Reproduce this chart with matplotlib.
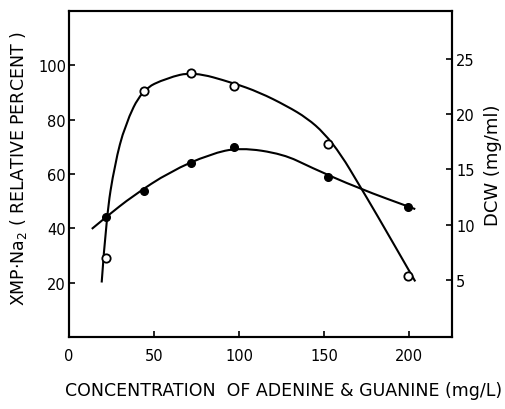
import matplotlib
matplotlib.use('Agg')
import matplotlib.pyplot as plt
from matplotlib.path import Path
from matplotlib.patches import PathPatch

# 数据
conc = [22, 44, 72, 97, 152, 199]
xmp = [29, 90.5, 97, 92.5, 71, 22.5]          # XMP-Na2, relative percent
dcw = [10.7, 13.0, 15.6, 17.0, 14.3, 11.6]    # DCW, mg/ml

# 手绘曲线的走向
xmp_curve_x = [19.3, 22, 27, 33, 43, 57.6, 73, 96.5, 112, 128, 140, 150, 160, 170, 180, 203.5]
xmp_curve_y = [20, 44, 63.6, 78, 91, 95.3, 97.6, 93.5, 90, 85, 80.5, 75, 67, 56.5, 46, 20.4]
dcw_curve_x = [13.5, 22, 37.6, 59.4, 83, 100.6, 126, 142, 170, 203.5]
dcw_curve_y = [9.6, 10.7, 12.6, 14.8, 16.4, 17.0, 16.4, 15.2, 13.3, 11.4]

x_ticks = [0, 50, 100, 150, 200]
left_ticks = [20, 40, 60, 80, 100]
right_ticks = [5, 10, 15, 20, 25]


def smooth(ax, xs, ys):
    pts = list(zip(xs, ys))
    verts = [pts[0]]
    codes = [Path.MOVETO]
    for i in range(1, len(pts) - 1):
        mid = ((pts[i][0] + pts[i + 1][0]) / 2, (pts[i][1] + pts[i + 1][1]) / 2)
        verts += [pts[i], mid]
        codes += [Path.CURVE3, Path.CURVE3]
    verts.append(pts[-1])
    codes.append(Path.LINETO)
    ax.add_patch(PathPatch(Path(verts, codes), fill=False, lw=1.5, color='black'))


fig = plt.figure(figsize=(5.06, 4.10), dpi=100)
ax = fig.add_axes([0.136, 0.176, 0.757, 0.795])
ax2 = ax.twinx()

smooth(ax, xmp_curve_x, xmp_curve_y)
ax.plot(conc, xmp, 'o', mfc='white', mec='black', ms=6, mew=1.3, zorder=5)
smooth(ax2, dcw_curve_x, dcw_curve_y)
ax2.plot(conc, dcw, 'o', color='black', ms=5.5, zorder=5)

ax.set_xlim(0, 225)
ax.set_ylim(0, 120)
ax2.set_ylim(-0.2, 29.4)
ax.set_xticks(x_ticks)
ax.set_yticks(left_ticks)
ax2.set_yticks(right_ticks)

for a in (ax, ax2):
    for s in a.spines.values():
        s.set_linewidth(1.5)
    a.tick_params(direction='in', length=4, width=1.2, labelsize=10.5)
ax.tick_params(axis='x', pad=8)
ax.tick_params(axis='y', pad=2)
ax2.tick_params(axis='y', pad=3)

ax.set_xlabel('CONCENTRATION  OF ADENINE & GUANINE (mg/L)', fontsize=12.5)
ax.xaxis.set_label_coords(0.56, -0.135)
ax.set_ylabel('XMP·Na$_2$ ( RELATIVE PERCENT )', fontsize=12.5)
ax.yaxis.set_label_coords(-0.105, 0.52)
ax2.set_ylabel('DCW (mg/ml)', fontsize=13, rotation=90)
ax2.yaxis.set_label_coords(1.085, 0.53)

fig.savefig('out.png', dpi=100)
